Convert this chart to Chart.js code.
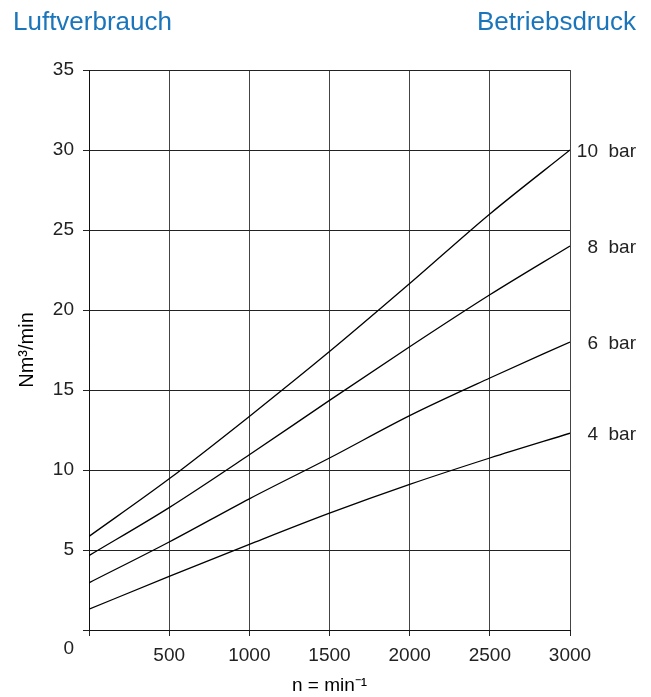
<!DOCTYPE html>
<html>
<head>
<meta charset="utf-8">
<script src="https://cdn.jsdelivr.net/npm/chart.js@4/dist/chart.umd.min.js"></script>
<style>
  html, body { margin: 0; padding: 0; background: #fff; }
  #wrap { position: relative; width: 651px; height: 697px; }
  #wrap canvas { position: absolute; left: 0; top: 0; }
  .head { position: absolute; top: 6px; font: 26px "Liberation Sans", Arial, sans-serif; color: #1b75bb; }
  #h-left { left: 13px; }
  #h-right { right: 15px; }
</style>
</head>
<body>
<div id="wrap">
  <canvas id="chart" width="651" height="697"></canvas>
  <div class="head" id="h-left">Luftverbrauch</div>
  <div class="head" id="h-right">Betriebsdruck</div>
</div>
<script>
// Luftverbrauch vs. Drehzahl, one curve per Betriebsdruck

const speeds = [0, 500, 1000, 1500, 2000, 2500, 3000];
const bar10 = [5.85, 9.45, 13.35, 17.4, 21.65, 26.0, 30.0];
const bar8 = [4.65, 7.65, 10.95, 14.35, 17.7, 20.95, 24.0];
const bar6 = [2.95, 5.5, 8.2, 10.75, 13.4, 15.75, 18.0];
const bar4 = [1.3, 3.35, 5.35, 7.3, 9.1, 10.75, 12.3];
const seriesLabels = ['10  bar', '8  bar', '6  bar', '4  bar'];

const FONT = '"Liberation Sans", Arial, sans-serif';
const INK = '#222';

const toPoints = vals => vals.map((v, i) => ({ x: speeds[i], y: v }));

function curve(label, vals) {
  return {
    label,
    data: toPoints(vals),
    borderColor: '#000',
    borderWidth: 1.3,
    pointRadius: 0,
    fill: false,
    cubicInterpolationMode: 'monotone',
  };
}

// "10 bar" etc. at the right end of each curve, plus the lone "0" in the corner
const sideLabels = {
  id: 'sideLabels',
  afterDraw(chart) {
    const { ctx, chartArea, scales } = chart;
    ctx.save();
    ctx.fillStyle = INK;
    ctx.font = '19px ' + FONT;
    ctx.textAlign = 'right';
    ctx.textBaseline = 'middle';
    chart.data.datasets.forEach(ds => {
      const last = ds.data[ds.data.length - 1];
      ctx.fillText(ds.label, chartArea.right + 66, scales.y.getPixelForValue(last.y) + 2);
    });
    ctx.fillText('0', chartArea.left - 15, chartArea.bottom + 19);
    ctx.restore();
  }
};

new Chart(document.getElementById('chart'), {
  type: 'line',
  data: {
    datasets: [
      curve(seriesLabels[0], bar10),
      curve(seriesLabels[1], bar8),
      curve(seriesLabels[2], bar6),
      curve(seriesLabels[3], bar4),
    ],
  },
  options: {
    responsive: false,
    animation: false,
    layout: { padding: { top: 70, right: 81, left: 0, bottom: 0 } },
    plugins: {
      legend: { display: false },
      tooltip: { enabled: false },
    },
    scales: {
      x: {
        type: 'linear',
        min: 0,
        max: 3000,
        ticks: {
          stepSize: 500,
          color: INK,
          font: { family: FONT, size: 19 },
          padding: 8,
          maxRotation: 0,
          callback: v => (v === 0 ? '' : v),
        },
        grid: { color: '#444', lineWidth: 1, tickLength: 6, tickColor: '#222' },
        border: { color: '#111', width: 1 },
        title: {
          display: true,
          text: 'n = min⁻¹',
          color: '#000',
          font: { family: FONT, size: 19 },
          padding: { top: 0, bottom: 0 },
        },
        afterFit: s => { s.height = 67; },
      },
      y: {
        min: 0,
        max: 35,
        ticks: {
          stepSize: 5,
          color: INK,
          font: { family: FONT, size: 19 },
          padding: 9,
          callback: v => (v === 0 ? '' : v),
        },
        grid: { color: '#222', lineWidth: 1, tickLength: 6, tickColor: '#222' },
        border: { color: '#111', width: 1 },
        title: {
          display: true,
          text: 'Nm³/min',
          color: '#000',
          font: { family: FONT, size: 20 },
          padding: { top: 15, bottom: 0 },
        },
        afterFit: s => { s.width = 89; },
      },
    },
  },
  plugins: [sideLabels],
});
</script>
</body>
</html>
